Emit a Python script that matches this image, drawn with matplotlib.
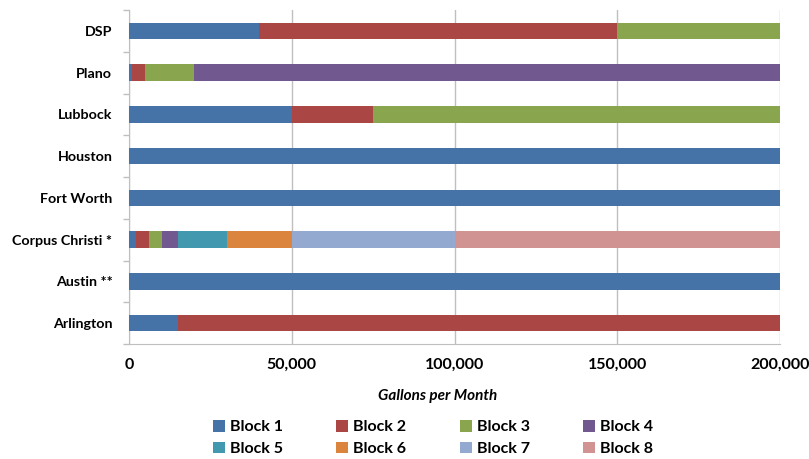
import matplotlib
matplotlib.use("Agg")
import matplotlib.pyplot as plt
import numpy as np

plt.rcParams['font.family'] = ['Lato', 'DejaVu Sans']

cities = ["Arlington", "Austin **", "Corpus Christi *", "Fort Worth", "Houston", "Lubbock", "Plano", "DSP"]
series_names = ["Block 1", "Block 2", "Block 3", "Block 4", "Block 5", "Block 6", "Block 7", "Block 8"]
# widths of each block per city (gallons per month)
block1 = [15000, 200000, 2000, 200000, 200000, 50000, 1000, 40000]
block2 = [185000, 0, 4000, 0, 0, 25000, 4000, 110000]
block3 = [0, 0, 4000, 0, 0, 125000, 15000, 50000]
block4 = [0, 0, 5000, 0, 0, 0, 180000, 0]
block5 = [0, 0, 15000, 0, 0, 0, 0, 0]
block6 = [0, 0, 20000, 0, 0, 0, 0, 0]
block7 = [0, 0, 50000, 0, 0, 0, 0, 0]
block8 = [0, 0, 100000, 0, 0, 0, 0, 0]
x_ticks = [0, 50000, 100000, 150000, 200000]
x_tick_labels = ["0", "50,000", "100,000", "150,000", "200,000"]

colors = ["#4572A7", "#AA4643", "#89A54E", "#71588F", "#4198AF", "#DB843D", "#93A9CF", "#D19392"]

fig = plt.figure(figsize=(8.09, 4.59), dpi=100)
ax = fig.add_axes([129/809, 1 - 344/459, (780-129)/809, (344-10)/459])

y = np.arange(len(cities))
left = np.zeros(len(cities))
for name, vals, c in zip(series_names, [block1, block2, block3, block4, block5, block6, block7, block8], colors):
    vals = np.array(vals, dtype=float)
    ax.barh(y, vals, left=left, height=0.4, color=c, label=name, zorder=3)
    left += vals

ax.set_xlim(0, 200000)
ax.set_ylim(-0.5, len(cities) - 0.5)
ax.set_xticks(x_ticks)
ax.set_xticklabels(x_tick_labels, fontsize=11.5, fontweight='bold')
ax.set_yticks(y)
ax.set_yticklabels(cities, fontsize=10.3, fontweight='bold')
ax.tick_params(axis='y', length=0, pad=12)
ax.tick_params(axis='x', length=0, pad=10)
ax.set_yticks(np.arange(-0.5, len(cities)), minor=True)
ax.tick_params(axis='y', which='minor', length=4, color='#BFBFBF', width=1)
ax.grid(axis='x', color='#BFBFBF', linewidth=1, zorder=0)

for s in ['top', 'right']:
    ax.spines[s].set_visible(False)
for s in ['left', 'bottom']:
    ax.spines[s].set_color('#BFBFBF')

fig.text(438/809, 1 - 396/459, "Gallons per Month", ha='center', va='center',
         fontsize=11, fontweight='bold', style='italic')

handles, labels = ax.get_legend_handles_labels()
order = [0, 4, 1, 5, 2, 6, 3, 7]
fig.legend([handles[i] for i in order], [labels[i] for i in order],
           loc='center', bbox_to_anchor=(433/809, 1 - 438/459), ncol=4,
           frameon=False, prop={'size': 11.5, 'weight': 'bold'},
           handlelength=0.75, handleheight=0.75, handletextpad=0.3,
           columnspacing=3.35, labelspacing=0.45)

fig.savefig("out.png", dpi=100)
